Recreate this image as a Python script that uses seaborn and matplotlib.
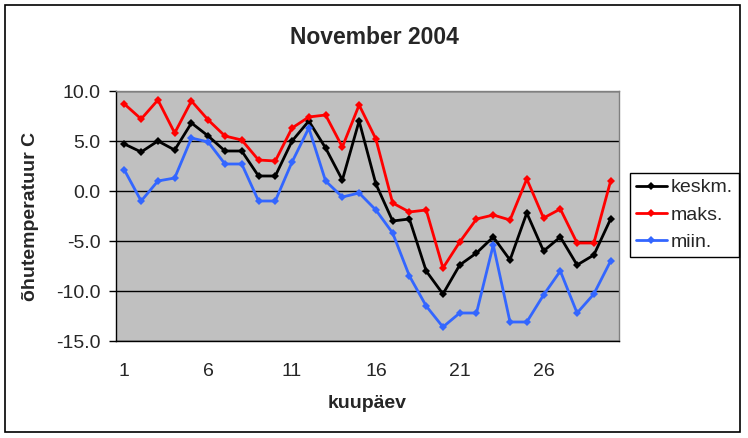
import numpy as np
import pandas as pd
import matplotlib
matplotlib.use("Agg")
import matplotlib.pyplot as plt
from matplotlib.patches import Rectangle
from matplotlib.ticker import FixedLocator, FormatStrFormatter
import seaborn as sns

# ---------------- data ----------------
days = list(range(1, 31))
keskm = [4.7, 3.9, 5.0, 4.1, 6.8, 5.5, 4.0, 4.0, 1.5, 1.5,
         5.0, 7.0, 4.3, 1.1, 7.0, 0.7, -3.0, -2.8, -8.0, -10.3,
         -7.4, -6.2, -4.6, -6.9, -2.2, -6.0, -4.6, -7.4, -6.4, -2.8]
maks = [8.7, 7.2, 9.1, 5.8, 9.0, 7.1, 5.5, 5.1, 3.1, 3.0,
        6.3, 7.4, 7.6, 4.4, 8.6, 5.2, -1.2, -2.1, -1.9, -7.7,
        -5.1, -2.8, -2.4, -2.9, 1.2, -2.7, -1.8, -5.2, -5.2, 1.0]
miin = [2.1, -1.0, 1.0, 1.3, 5.3, 4.9, 2.7, 2.7, -1.0, -1.0,
        2.9, 6.3, 1.0, -0.6, -0.2, -1.9, -4.2, -8.5, -11.5, -13.6,
        -12.2, -12.2, -5.4, -13.1, -13.1, -10.4, -8.0, -12.2, -10.3, -7.0]
series_names = ["keskm.", "maks.", "miin."]
series_colors = ["#000000", "#FF0000", "#3366FF"]
y_ticks = [-15, -10, -5, 0, 5, 10]
x_labels = [1, 6, 11, 16, 21, 26]

df = pd.DataFrame({"kuupaev": days, "keskm.": keskm, "maks.": maks, "miin.": miin})
long_df = df.melt(id_vars="kuupaev", var_name="seeria", value_name="temp")

# ---------------- figure ----------------
sns.set_style("white")
plt.rcParams["font.family"] = ["Liberation Sans", "DejaVu Sans"]

fig = plt.figure(figsize=(7.48, 4.38), dpi=100)
ax = fig.add_axes([116 / 748, 1 - 341 / 438, 503 / 748, 250 / 438])
ax.set_facecolor("#C0C0C0")

sns.lineplot(data=long_df, x="kuupaev", y="temp", hue="seeria",
             hue_order=series_names, palette=series_colors,
             style="seeria", markers=["D", "D", "D"], dashes=False,
             markersize=4.5, markeredgewidth=0, linewidth=2, ax=ax)

ax.set_xlim(0.5, 30.5)
ax.set_ylim(-15, 10)
ax.yaxis.set_major_locator(FixedLocator(y_ticks))
ax.yaxis.set_major_formatter(FormatStrFormatter("%.1f"))
ax.grid(axis="y", color="black", linewidth=1)
ax.set_axisbelow(True)

ax.xaxis.set_major_locator(FixedLocator(x_labels))
ax.xaxis.set_minor_locator(FixedLocator(np.arange(0.5, 31, 1)))
ax.tick_params(axis="x", which="major", length=0, pad=16, labelsize=14)
ax.tick_params(axis="x", which="minor", length=5, width=1, color="black", direction="out")
ax.tick_params(axis="y", which="major", length=5, width=1, color="black",
               direction="out", pad=6, labelsize=14, left=True)

for side in ["top", "right"]:
    ax.spines[side].set_color("#808080")
    ax.spines[side].set_linewidth(1)
for side in ["left", "bottom"]:
    ax.spines[side].set_color("black")
    ax.spines[side].set_linewidth(1)

ax.set_xlabel("")
ax.set_ylabel("")
fig.text(367 / 748, 1 - 404 / 438, "kuupäev", fontsize=14, fontweight="bold",
         ha="center", va="center")
fig.text(31 / 748, 1 - 216 / 438, "õhutemperatuur C", fontsize=14, fontweight="bold",
         ha="center", va="center", rotation=90)
fig.text(374 / 748, 1 - 37 / 438, "November 2004", fontsize=16.5, fontweight="bold",
         ha="center", va="center")

handles, labels = ax.get_legend_handles_labels()
ax.legend(handles, labels, loc="upper left", bbox_to_anchor=(630 / 748, 1 - 173 / 438),
          bbox_transform=fig.transFigure, borderaxespad=0, fontsize=14,
          frameon=True, fancybox=False, framealpha=1, edgecolor="black",
          handlelength=1.6, handletextpad=0.2, labelspacing=0.5, borderpad=0.3)

fig.patches.append(Rectangle((5 / 748, 1 - 432 / 438), 735 / 748, 427 / 438,
                             transform=fig.transFigure, fill=False,
                             edgecolor="black", linewidth=1.2))

fig.savefig("out.png", dpi=100)
